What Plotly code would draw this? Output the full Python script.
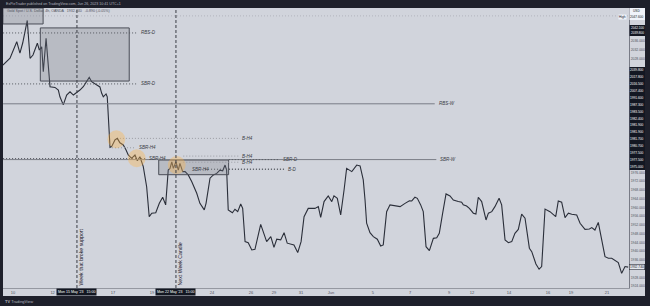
import plotly.graph_objects as go

# ---------------- data ----------------
# time axis: trading days counted from 10 May 2023 (fractional)
t = [-0.51,-0.15,0.19,0.35,0.49,0.72,0.86,1.01,1.23,1.33,
     1.45,1.53,1.67,1.87,2.12,2.29,2.37,2.54,2.71,2.88,
     3.05,3.18,3.38,3.55,3.85,3.97,4.23,4.39,4.48,4.56,
     4.70,4.76,4.90,4.98,5.15,5.27,5.40,5.57,5.71,5.82,
     5.99,6.16,6.28,6.41,6.58,6.75,6.88,7.01,7.21,7.39,
     7.56,7.71,7.84,7.93,8.02,8.10,8.23,8.35,8.43,8.57,
     8.69,8.85,9.03,9.28,9.44,9.66,9.75,9.86,9.95,10.12,
     10.29,10.45,10.59,10.71,10.79,10.87,11.08,11.21,11.35,11.50,
     11.60,11.72,11.88,12.06,12.22,12.51,12.64,12.81,13.02,13.18,
     13.32,13.52,13.69,13.85,14.19,14.38,14.55,14.70,14.91,15.25,
     15.42,15.54,15.71,15.92,16.10,16.21,16.38,16.55,16.72,16.85,
     17.11,17.36,17.53,17.69,17.78,17.86,18.03,18.20,18.40,18.57,
     18.70,18.87,19.04,19.34,19.55,19.80,20.02,20.14,20.30,20.42,
     20.59,20.72,20.86,21.03,21.23,21.40,21.53,21.70,21.87,22.07,
     22.24,22.49,22.66,22.74,22.91,23.05,23.25,23.38,23.50,23.67,
     23.89,24.01,24.18,24.34,24.55,24.68,24.85,25.02,25.19,25.35,
     25.52,25.69,25.86,26.08,26.20,26.41,26.57,26.70,26.87,27.12,
     27.41,27.54,27.71,27.88,28.05,28.22,28.47,28.64,28.89,29.11,
     29.23,29.39,29.56,29.90,30.07,30.24,30.40,30.57,30.74,30.91,31.07]
price = [2025.1,2028.3,2035.8,2030.6,2035.2,2045.5,2028.2,2029.7,2035.1,2032.0,
         2033.5,2022.1,2037.3,2015.2,2014.9,2013.7,2010.6,2006.9,2011.4,2012.9,
         2011.4,2012.2,2013.7,2015.2,2019.5,2017.5,2016.0,2015.1,2012.2,2010.6,
         2011.9,2010.6,1987.5,1987.8,1990.9,1991.6,1989.6,1988.6,1986.3,1984.0,
         1982.5,1984.0,1981.4,1983.2,1978.7,1969.5,1955.8,1957.4,1957.6,1961.9,
         1964.7,1961.2,1977.1,1977.9,1980.9,1977.9,1980.9,1977.1,1980.2,1976.4,
         1976.4,1974.9,1971.8,1966.5,1961.9,1958.9,1961.9,1968.0,1973.4,1974.9,
         1975.6,1977.1,1976.8,1979.4,1977.1,1958.9,1957.6,1959.2,1958.1,1961.6,
         1959.6,1944.4,1943.9,1940.6,1940.9,1952.3,1949.0,1944.4,1946.7,1941.8,
         1945.5,1945.2,1948.5,1943.7,1942.9,1939.4,1944.4,1955.8,1959.6,1959.6,
         1960.4,1955.5,1962.7,1965.3,1962.7,1965.3,1964.2,1956.6,1968.0,1977.9,
         1976.4,1979.4,1979.0,1972.6,1963.4,1952.8,1948.5,1946.7,1945.5,1942.4,
         1942.9,1958.1,1961.2,1960.8,1960.4,1961.9,1963.1,1963.0,1964.7,1964.2,
         1961.2,1958.1,1942.1,1940.3,1945.9,1946.2,1948.2,1957.4,1966.2,1965.3,
         1963.4,1962.7,1962.4,1961.2,1960.7,1959.6,1957.4,1957.0,1964.7,1962.7,
         1954.3,1957.4,1958.1,1960.4,1964.2,1961.2,1945.2,1943.9,1944.4,1948.2,
         1950.0,1957.0,1955.1,1941.4,1939.8,1934.2,1931.8,1933.0,1959.3,1958.1,
         1955.8,1963.0,1962.4,1955.4,1957.4,1956.9,1956.6,1952.8,1950.0,1950.2,
         1950.8,1949.7,1953.2,1937.5,1936.8,1936.8,1936.0,1934.8,1929.9,1933.0,1932.74]

x_tick_vals = [0, 2.0, 5.05, 7.02, 10.05, 12.02, 13.18, 14.55, 16.06, 18.18,
               20.05, 22.02, 23.18, 25.05, 27.02, 28.18, 30.0]
x_tick_text = ["10", "12", "17", "19", "24", "26", "29", "31", "Jun", "5",
               "7", "9", "12", "14", "16", "19", "21"]

# price scale ticks that stay visible (others are hidden behind drawing labels)
y_tick_vals = [1924, 1928, 1936, 1940, 1944, 1948, 1952, 1956, 1960, 1964,
               1968, 1972, 1976, 2028, 2032, 2036]

# drawn horizontal levels
lvl_name  = ["RBS-D", "SBR-D", "RBS-W", "B-H4", "SBR-H4", "SBR-W", "SBR-H4", "B-H4", "B-H4", "SBR-D", "SBR-H4", "B-D"]
lvl_price = [2039.8, 2016.5, 2007.4, 1991.6, 1987.3, 1981.9, 1982.4, 1983.5, 1980.7, 1981.9, 1977.5, 1977.5]
lvl_start = [-0.5, -0.5, -0.5, 5.4, 5.0, -0.5, -0.5, 8.6, 8.6, 10.9, 9.7, 10.9]
lvl_end   = [6.26, 6.26, 21.3, 11.38, 6.2, 21.38, 6.7, 11.38, 11.38, 13.45, 13.7, 13.7]
lvl_label = [6.36, 6.36, 21.4, 11.46, 6.28, 21.48, 6.75, 11.46, 11.46, 13.54, 8.94, 13.79]
lvl_style = ["dot", "dot", "solid", "ldot", "ldot", "solid", "dot", "ldot", "ldot", "dot", "dot", "dot"]

# zone boxes: (t0, t1, low, high)
box_t0 = [-0.51, 1.38, 7.36]
box_t1 = [1.52, 5.87, 10.89]
box_lo = [2043.9, 2017.8, 1975.0]
box_hi = [2051.2, 2042.1, 1981.7]

# highlighted reaction circles
circ_t = [5.22, 6.25, 8.27]
circ_p = [1991.2, 1982.5, 1979.4]

# vertical event markers
event_t = [3.23, 8.23]
event_text = ["Week that broke support", "Next Week Candle"]
event_stamp = ["Mon 15 May '23   15:00", "Mon 22 May '23   15:00"]

last_price = 1932.74
high_price = 2047.6

# ---------------- layout geometry (pixels) ----------------
W, H = 650, 306
PL, PR, PT, PB = 3, 629, 8, 288  # plot area edges
def px(xp):
    return (xp - PL) / (PR - PL)
def py(yp):
    return (PB - yp) / (PB - PT)

BG = "#d1d4dc"
DARK = "#1e202b"
INK = "#2a2e39"
FONT = "Liberation Sans"

fig = go.Figure()
fig.add_trace(go.Scatter(x=t, y=price, mode="lines",
                         line=dict(color=INK, width=1.1), hoverinfo="skip",
                         showlegend=False))

shapes = []
annotations = []

# light area around the plot (price scale + time scale)
shapes.append(dict(type="rect", xref="paper", yref="paper", x0=1, x1=px(645),
                   y0=py(296), y1=py(PT), fillcolor=BG, line_width=0, layer="below"))
shapes.append(dict(type="rect", xref="paper", yref="paper", x0=0, x1=1,
                   y0=py(296), y1=0, fillcolor=BG, line_width=0, layer="below"))

# faint high line
shapes.append(dict(type="line", xref="paper", yref="y", x0=0, x1=1, y0=high_price, y1=high_price,
                   line=dict(color="rgba(120,123,134,0.35)", width=1, dash="1px,2px")))

# boxes
for a, b, lo, hi in zip(box_t0, box_t1, box_lo, box_hi):
    shapes.append(dict(type="rect", x0=a, x1=b, y0=lo, y1=hi,
                       fillcolor="rgba(120,123,134,0.28)",
                       line=dict(color="#4a4d57", width=1)))

# levels
for name, p, a, b, lx, st in zip(lvl_name, lvl_price, lvl_start, lvl_end, lvl_label, lvl_style):
    if st == "solid":
        ln = dict(color="#7a7d86", width=1)
    elif st == "dot":
        ln = dict(color="#55585f", width=1, dash="1px,2px")
    else:
        ln = dict(color="#9a9ca3", width=1, dash="1px,2px")
    shapes.append(dict(type="line", x0=a, x1=b, y0=p, y1=p, line=ln))
    annotations.append(dict(x=lx, y=p, text="<i>" + name + "</i>", showarrow=False,
                            xanchor="left", yanchor="middle",
                            font=dict(size=4.5, color="#3a3d45", family=FONT)))

# circles
for ct, cp in zip(circ_t, circ_p):
    shapes.append(dict(type="circle", x0=ct - 0.45, x1=ct + 0.45, y0=cp - 4.1, y1=cp + 4.1,
                       fillcolor="rgba(255,180,70,0.36)", line_width=0))

# vertical event lines
for et, txt, stamp in zip(event_t, event_text, event_stamp):
    shapes.append(dict(type="line", x0=et, x1=et, yref="paper", y0=0, y1=1,
                       line=dict(color="#3a3d45", width=1, dash="3px,2px")))
    annotations.append(dict(x=et, xshift=4, yref="paper", y=py(287), text=txt,
                            textangle=-90, showarrow=False, xanchor="center", yanchor="bottom",
                            font=dict(size=5.2, color="#1e202b", family=FONT)))
    annotations.append(dict(x=et, yref="paper", y=py(292), text=stamp, showarrow=False,
                            xanchor="center", yanchor="middle", bgcolor="#131722",
                            borderpad=1,
                            font=dict(size=3.6, color="#ffffff", family=FONT)))

# price scale label blocks (drawing price labels stacked by the platform)
shapes.append(dict(type="rect", xref="paper", yref="paper", x0=px(629.5), x1=px(645),
                   y0=py(36), y1=py(25), fillcolor="#131722", line_width=0))
shapes.append(dict(type="rect", xref="paper", yref="paper", x0=px(629.5), x1=px(645),
                   y0=py(170), y1=py(67), fillcolor="#131722", line_width=0))
top_labels = [box_hi[1], lvl_price[0]]
for i, v in enumerate(top_labels):
    annotations.append(dict(xref="paper", yref="paper", x=px(637), y=py(27.8 + 5.4 * i),
                            text=f"{v:.3f}", showarrow=False, xanchor="center", yanchor="middle",
                            font=dict(size=3.1, color="#ffffff", family=FONT)))
block_vals = sorted([box_lo[1]] + lvl_price + box_hi[2:] + box_lo[2:], reverse=True)
n = len(block_vals)
for i, v in enumerate(block_vals):
    annotations.append(dict(xref="paper", yref="paper", x=px(637),
                            y=py(70 + i * (97 / (n - 1))), yanchor="middle",
                            text=f"{v:.3f}", showarrow=False, xanchor="center",
                            font=dict(size=3.2, color="#ffffff", family=FONT)))

# currency / high labels at the top of the price scale
shapes.append(dict(type="rect", xref="paper", yref="paper", x0=px(629.5), x1=px(645),
                   y0=py(20), y1=py(8), fillcolor="#f0f3fa", line_width=0))
annotations.append(dict(xref="paper", yref="paper", x=px(631), y=py(11), text="USD",
                        showarrow=False, xanchor="left", yanchor="middle",
                        font=dict(size=3.2, color="#131722", family=FONT)))
annotations.append(dict(xref="paper", yref="paper", x=px(637), y=py(16.5), text=f"{high_price:.3f}",
                        showarrow=False, xanchor="center", yanchor="middle",
                        font=dict(size=3.2, color="#131722", family=FONT)))
annotations.append(dict(xref="paper", yref="paper", x=px(627), y=py(16.5), text="High",
                        showarrow=False, xanchor="right", yanchor="middle",
                        bgcolor="#f0f3fa", borderpad=0,
                        font=dict(size=3.2, color="#131722", family=FONT)))

# last price label
annotations.append(dict(xref="paper", yref="y", x=px(637), y=last_price, text=f"{last_price:.3f}",
                        showarrow=False, xanchor="center", yanchor="middle", bgcolor="#e6e8ee",
                        bordercolor="#2a2e39", borderwidth=0.6, borderpad=0.5,
                        font=dict(size=3.3, color="#131722", family=FONT)))

# header / legend / footer
annotations.append(dict(xref="paper", yref="paper", x=px(4), y=py(3.8),
                        text="ExPieTrader published on TradingView.com, Jun 26, 2023 10:41 UTC+1",
                        showarrow=False, xanchor="left", yanchor="middle",
                        font=dict(size=3.6, color="#b2b5be", family=FONT)))
annotations.append(dict(xref="paper", yref="paper", x=px(5), y=py(11.5),
                        text="Gold Spot / U.S. Dollar, 4h, OANDA   1932.740   -0.890 (-0.05%)",
                        showarrow=False, xanchor="left", yanchor="middle",
                        font=dict(size=3.6, color="#50535e", family=FONT)))
annotations.append(dict(xref="paper", yref="paper", x=px(3), y=py(301),
                        text="<b>TV</b> TradingView", showarrow=False, xanchor="left",
                        yanchor="middle",
                        font=dict(size=4, color="#b2b5be", family=FONT)))

fig.update_layout(
    width=W, height=H,
    margin=dict(l=PL, r=W - PR, t=PT, b=H - PB, pad=0),
    paper_bgcolor=DARK, plot_bgcolor=BG,
    showlegend=False,
    shapes=shapes, annotations=annotations,
    xaxis=dict(range=[(PL - 13) / 19.8, (PR - 13) / 19.8], tickvals=x_tick_vals,
               ticktext=x_tick_text, tickfont=dict(size=4, color="#50535e", family=FONT),
               showgrid=False, zeroline=False, showline=True, linecolor="#9598a1",
               linewidth=1, ticks="", ticklen=0),
    yaxis=dict(range=[1923.2, 2051.2], side="right", tickvals=y_tick_vals,
               tickformat=".3f", tickfont=dict(size=3.4, color="#50535e", family=FONT),
               showgrid=False, zeroline=False, showline=True, linecolor="#787b86",
               linewidth=1, ticks=""),
)

fig.write_html("out.html")
